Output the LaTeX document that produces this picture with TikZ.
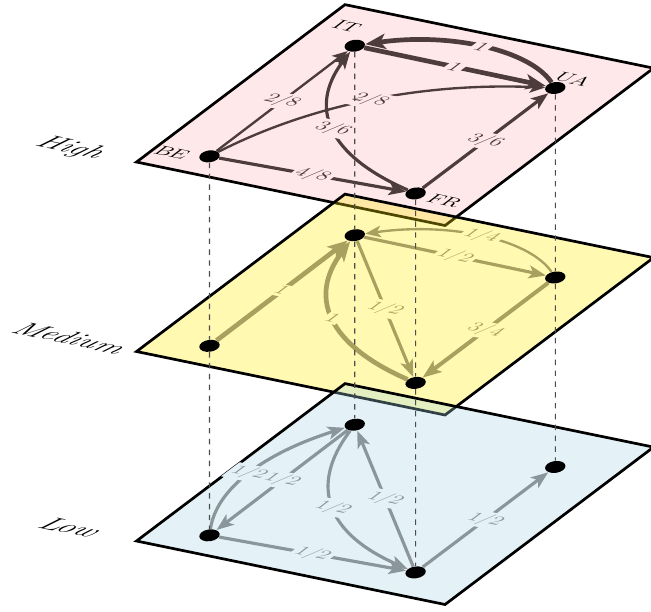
\documentclass[tikz,border=0pt]{standalone}
\usetikzlibrary{arrows.meta,shapes.geometric}

\definecolor{highfill}{RGB}{255,178,185}
\definecolor{medfill}{RGB}{255,235,0}
\definecolor{lowfill}{RGB}{164,213,230}
\definecolor{highpaper}{RGB}{255,232,234}
\definecolor{medpaper}{RGB}{255,249,178}
\definecolor{lowpaper}{RGB}{228,242,247}
\definecolor{highink}{RGB}{77,60,60}
\definecolor{medink}{RGB}{168,160,95}
\definecolor{lowink}{RGB}{138,150,156}

\tikzset{
  plane/.style={cm={1,-0.2058,0.6758,0.5101,(2.655,#1)}},
  sheet/.style={fill=#1, fill opacity=0.3, draw=black, line width=1.5pt},
  dot/.style={ellipse, fill=black, inner sep=0pt, minimum width=0.4cm, minimum height=0.23cm, rotate=8},
  link/.style={draw=#1, -{Stealth[length=6pt 2, width'=0pt 0.75, inset'=0pt 0.25]}},
  wlab/.style={transform shape, font=\fontsize{11.5}{13}\selectfont, inner sep=1.6pt, fill=#1},
  tag/.style={transform shape, font=\large},
  levelname/.style={transform shape, font=\LARGE\itshape},
  drop/.style={dashed, black!70, line width=0.6pt}
}

\begin{document}
\begin{tikzpicture}
\useasboundingbox (0,0) rectangle (12.660,-11.883);

% top layer
\begin{scope}[plane=-3.151, ink/.style={link=highink, line width=#1}, val/.style={wlab=highpaper, text=highink}]
\path[sheet=highfill] (0,0) -- (6,0) -- (6,6) -- (0,6) -- cycle;
\node[levelname] (hName) at (-1.3,0) {High};
\foreach \n/\x/\y in {BE/1/0.62,IT/0.98/4.83,UA/4.9/4.8,FR/4.9/0.78}
  \node[dot] (h\n) at (\x,\y) {};
\node[tag] (hBEtag) at (0.36,0.5) {BE};
\node[tag] (hITtag) at (0.47,5.37) {IT};
\node[tag] (hUAtag) at (5.0,5.17) {UA};
\node[tag] (hFRtag) at (5.5,0.74) {FR};
\draw[ink=2.6pt] (hIT) -- (hUA) node[val,midway] (h1) {$1$};
\draw[ink=2.6pt] (hUA) .. controls (3.724,5.787) and (2.156,5.817) .. (hIT) node[val,midway] (h2) {$1$};
\draw[ink=1.3pt] (hBE) -- (hIT) node[val,midway] (h3) {$2/8$};
\draw[ink=1.3pt] (hBE) .. controls (1.503,2.801) and (2.760,4.146) .. (hUA) node[val,midway] (h4) {$2/8$};
\draw[ink=1.75pt] (hBE) -- (hFR) node[val,midway] (h5) {$4/8$};
\draw[ink=1.75pt] (hFR) -- (hUA) node[val,midway] (h6) {$3/6$};
\draw[ink=1.75pt] (hFR) .. controls (2.778,1.386) and (1.516,2.689) .. (hIT) node[val,midway] (h7) {$3/6$};
\end{scope}

% middle layer
\begin{scope}[plane=-6.836, ink/.style={link=medink, line width=#1}, val/.style={wlab=medpaper, text=medink}]
\path[sheet=medfill] (0,0) -- (6,0) -- (6,6) -- (0,6) -- cycle;
\node[levelname] (mName) at (-1.3,0) {Medium};
\foreach \n/\x/\y in {BE/1/0.62,IT/0.98/4.83,UA/4.9/4.8,FR/4.9/0.78}
  \node[dot] (m\n) at (\x,\y) {};
\draw[ink=2.6pt] (mBE) -- (mIT) node[val,midway] (m1) {$1$};
\draw[ink=1.75pt] (mIT) -- (mUA) node[val,midway] (m2) {$1/2$};
\draw[ink=1.75pt] (mIT) -- (mFR) node[val,midway] (m3) {$1/2$};
\draw[ink=2.6pt] (mFR) .. controls (2.778,1.386) and (1.516,2.689) .. (mIT) node[val,midway] (m4) {$1$};
\draw[ink=1.3pt] (mUA) .. controls (3.724,5.787) and (2.156,5.817) .. (mIT) node[val,midway] (m5) {$1/4$};
\draw[ink=2.2pt] (mUA) -- (mFR) node[val,midway] (m6) {$3/4$};
\end{scope}

% bottom layer
\begin{scope}[plane=-10.521, ink/.style={link=lowink, line width=#1}, val/.style={wlab=lowpaper, text=lowink}]
\path[sheet=lowfill] (0,0) -- (6,0) -- (6,6) -- (0,6) -- cycle;
\node[levelname] (lName) at (-1.3,0) {Low};
\foreach \n/\x/\y in {BE/1/0.62,IT/0.98/4.83,UA/4.9/4.8,FR/4.9/0.78}
  \node[dot] (l\n) at (\x,\y) {};
\draw[ink=1.75pt] (lBE) .. controls (0.169,2.043) and (0.163,3.399) .. (lIT) node[val,midway] (l1) {$1/2$};
\draw[ink=1.75pt] (lIT) -- (lBE) node[val,midway] (l2) {$1/2$};
\draw[ink=1.75pt] (lBE) -- (lFR) node[val,midway] (l3) {$1/2$};
\draw[ink=1.75pt] (lFR) -- (lIT) node[val,midway] (l4) {$1/2$};
\draw[ink=1.75pt] (lIT) .. controls (1.516,2.689) and (2.778,1.386) .. (lFR) node[val,midway] (l5) {$1/2$};
\draw[ink=1.75pt] (lFR) -- (lUA) node[val,midway] (l6) {$1/2$};
\end{scope}

% drop lines between the layers
\foreach \n in {BE,IT,UA,FR}{
  \draw[drop] (h\n) -- (m\n);
  \draw[drop] (m\n) -- (l\n);
}
\end{tikzpicture}
\end{document}
